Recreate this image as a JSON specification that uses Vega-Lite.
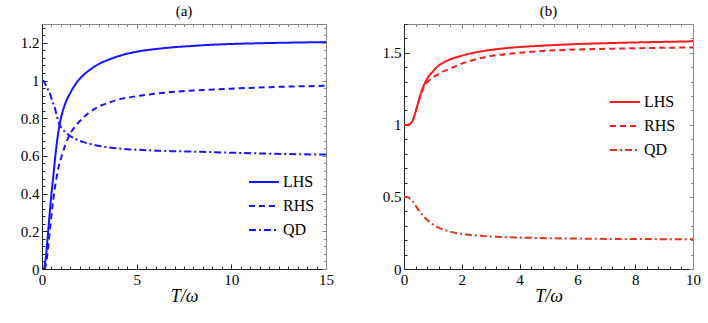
{
"$schema": "https://vega.github.io/schema/vega-lite/v6.json",
"background": "white",
"padding": {"left": 20, "top": 3, "right": 0, "bottom": 0},
"config": {
  "font": "Liberation Serif, Times New Roman, serif",
  "view": {"stroke": null},
  "axis": {"labelFont": "Liberation Serif, Times New Roman, serif", "labelFontSize": 15, "labelColor": "#000", "titleFont": "Liberation Serif, Times New Roman, serif", "titleFontSize": 18, "titleFontWeight": "normal", "titleColor": "#000", "grid": false, "labelFlush": false, "labelOverlap": false},
  "title": {"font": "Liberation Serif, Times New Roman, serif", "fontSize": 15, "fontWeight": "normal", "color": "#000", "offset": 5, "anchor": "middle"},
  "legend": {"padding": 0}
},
"datasets": {
  "a": [
    {"s":"LHS","x":0.1,"y":0},{"s":"LHS","x":0.2,"y":0.06},{"s":"LHS","x":0.3,"y":0.17},{"s":"LHS","x":0.4,"y":0.29},{"s":"LHS","x":0.5,"y":0.4},{"s":"LHS","x":0.6,"y":0.495},{"s":"LHS","x":0.7,"y":0.595},{"s":"LHS","x":0.8,"y":0.68},{"s":"LHS","x":0.9,"y":0.75},{"s":"LHS","x":1.0,"y":0.8},{"s":"LHS","x":1.2,"y":0.87},{"s":"LHS","x":1.5,"y":0.935},{"s":"LHS","x":1.8,"y":0.985},{"s":"LHS","x":2.2,"y":1.03},{"s":"LHS","x":2.6,"y":1.062},{"s":"LHS","x":3,"y":1.088},{"s":"LHS","x":3.5,"y":1.11},{"s":"LHS","x":4,"y":1.128},{"s":"LHS","x":5,"y":1.153},{"s":"LHS","x":6,"y":1.167},{"s":"LHS","x":7,"y":1.177},{"s":"LHS","x":8,"y":1.184},{"s":"LHS","x":9,"y":1.19},{"s":"LHS","x":10,"y":1.194},{"s":"LHS","x":12,"y":1.199},{"s":"LHS","x":15,"y":1.204},
    {"s":"RHS","x":0.15,"y":0},{"s":"RHS","x":0.25,"y":0.05},{"s":"RHS","x":0.35,"y":0.14},{"s":"RHS","x":0.45,"y":0.24},{"s":"RHS","x":0.55,"y":0.33},{"s":"RHS","x":0.65,"y":0.41},{"s":"RHS","x":0.78,"y":0.49},{"s":"RHS","x":0.9,"y":0.55},{"s":"RHS","x":1.04,"y":0.6},{"s":"RHS","x":1.2,"y":0.65},{"s":"RHS","x":1.4,"y":0.7},{"s":"RHS","x":1.7,"y":0.75},{"s":"RHS","x":2,"y":0.785},{"s":"RHS","x":2.4,"y":0.823},{"s":"RHS","x":2.9,"y":0.857},{"s":"RHS","x":3.5,"y":0.882},{"s":"RHS","x":4,"y":0.898},{"s":"RHS","x":5,"y":0.917},{"s":"RHS","x":6,"y":0.93},{"s":"RHS","x":7,"y":0.94},{"s":"RHS","x":8,"y":0.947},{"s":"RHS","x":10,"y":0.957},{"s":"RHS","x":12,"y":0.965},{"s":"RHS","x":15,"y":0.972},
    {"s":"QD","x":0,"y":1.0},{"s":"QD","x":0.1,"y":0.995},{"s":"QD","x":0.2,"y":0.975},{"s":"QD","x":0.3,"y":0.955},{"s":"QD","x":0.42,"y":0.93},{"s":"QD","x":0.55,"y":0.89},{"s":"QD","x":0.69,"y":0.85},{"s":"QD","x":0.8,"y":0.805},{"s":"QD","x":0.91,"y":0.77},{"s":"QD","x":1.1,"y":0.74},{"s":"QD","x":1.3,"y":0.72},{"s":"QD","x":1.5,"y":0.705},{"s":"QD","x":1.83,"y":0.687},{"s":"QD","x":2.2,"y":0.673},{"s":"QD","x":2.7,"y":0.66},{"s":"QD","x":3.3,"y":0.649},{"s":"QD","x":4,"y":0.64},{"s":"QD","x":5,"y":0.633},{"s":"QD","x":6,"y":0.628},{"s":"QD","x":7,"y":0.625},{"s":"QD","x":8.35,"y":0.622},{"s":"QD","x":10,"y":0.617},{"s":"QD","x":12,"y":0.612},{"s":"QD","x":15,"y":0.607}
  ],
  "b": [
    {"s":"LHS","x":0,"y":1.0},{"s":"LHS","x":0.1,"y":1.0},{"s":"LHS","x":0.2,"y":1.005},{"s":"LHS","x":0.3,"y":1.03},{"s":"LHS","x":0.4,"y":1.09},{"s":"LHS","x":0.5,"y":1.16},{"s":"LHS","x":0.6,"y":1.23},{"s":"LHS","x":0.7,"y":1.28},{"s":"LHS","x":0.85,"y":1.335},{"s":"LHS","x":1.0,"y":1.37},{"s":"LHS","x":1.13,"y":1.4},{"s":"LHS","x":1.3,"y":1.425},{"s":"LHS","x":1.6,"y":1.455},{"s":"LHS","x":2,"y":1.48},{"s":"LHS","x":2.4,"y":1.5},{"s":"LHS","x":3,"y":1.52},{"s":"LHS","x":3.5,"y":1.532},{"s":"LHS","x":4,"y":1.54},{"s":"LHS","x":5,"y":1.552},{"s":"LHS","x":6,"y":1.561},{"s":"LHS","x":7,"y":1.567},{"s":"LHS","x":8,"y":1.572},{"s":"LHS","x":9,"y":1.576},{"s":"LHS","x":10,"y":1.58},
    {"s":"RHS","x":0,"y":1.0},{"s":"RHS","x":0.1,"y":1.0},{"s":"RHS","x":0.2,"y":1.005},{"s":"RHS","x":0.3,"y":1.03},{"s":"RHS","x":0.4,"y":1.09},{"s":"RHS","x":0.5,"y":1.16},{"s":"RHS","x":0.6,"y":1.22},{"s":"RHS","x":0.7,"y":1.265},{"s":"RHS","x":0.85,"y":1.305},{"s":"RHS","x":1.0,"y":1.33},{"s":"RHS","x":1.13,"y":1.345},{"s":"RHS","x":1.3,"y":1.365},{"s":"RHS","x":1.6,"y":1.39},{"s":"RHS","x":2,"y":1.425},{"s":"RHS","x":2.4,"y":1.45},{"s":"RHS","x":3,"y":1.478},{"s":"RHS","x":3.5,"y":1.49},{"s":"RHS","x":4,"y":1.5},{"s":"RHS","x":5,"y":1.515},{"s":"RHS","x":6,"y":1.523},{"s":"RHS","x":7,"y":1.528},{"s":"RHS","x":8,"y":1.532},{"s":"RHS","x":9,"y":1.535},{"s":"RHS","x":10,"y":1.537},
    {"s":"QD","x":0,"y":0.5},{"s":"QD","x":0.1,"y":0.5},{"s":"QD","x":0.2,"y":0.49},{"s":"QD","x":0.3,"y":0.47},{"s":"QD","x":0.4,"y":0.44},{"s":"QD","x":0.5,"y":0.41},{"s":"QD","x":0.6,"y":0.385},{"s":"QD","x":0.75,"y":0.35},{"s":"QD","x":0.92,"y":0.32},{"s":"QD","x":1.1,"y":0.298},{"s":"QD","x":1.3,"y":0.278},{"s":"QD","x":1.5,"y":0.265},{"s":"QD","x":1.8,"y":0.25},{"s":"QD","x":2.3,"y":0.236},{"s":"QD","x":3,"y":0.226},{"s":"QD","x":3.5,"y":0.221},{"s":"QD","x":4,"y":0.218},{"s":"QD","x":5,"y":0.214},{"s":"QD","x":6,"y":0.211},{"s":"QD","x":7,"y":0.209},{"s":"QD","x":8,"y":0.208},{"s":"QD","x":9,"y":0.207},{"s":"QD","x":10,"y":0.206}
  ]
},
"bounds": "flush",
"spacing": 78,
"resolve": {"scale": {"x": "independent", "y": "independent", "color": "independent", "strokeDash": "independent"}, "legend": {"color": "independent", "strokeDash": "independent"}},
"hconcat": [
  {
    "title": {"text": "(a)"},
    "width": 284, "height": 245,
    "data": {"name": "a"},
    "resolve": {"axis": {"x": "independent", "y": "independent"}},
    "layer": [
      {
        "mark": {"type": "line", "interpolate": "monotone", "strokeWidth": 2, "clip": true},
        "encoding": {
          "x": {"field": "x", "type": "quantitative", "scale": {"domain": [0, 15], "nice": false}, "axis": {"orient": "bottom", "values": [0, 5, 10, 15], "tickSize": -5, "tickColor": "#222", "domainColor": "#222", "labelPadding": 8, "title": "T/ω", "titleFontStyle": "italic", "titlePadding": 0}},
          "y": {"field": "y", "type": "quantitative", "scale": {"domain": [0, 1.3], "nice": false}, "axis": {"orient": "left", "values": [0, 0.2, 0.4, 0.6, 0.8, 1, 1.2], "format": "~g", "tickSize": -5, "tickColor": "#222", "domainColor": "#222", "labelPadding": 8, "title": null}},
          "color": {"field": "s", "type": "nominal", "scale": {"domain": ["LHS", "RHS", "QD"], "range": ["#1414ff", "#1414ff", "#1414ff"]}, "legend": {"title": null, "orient": "none", "legendX": 206, "legendY": 142, "symbolType": "stroke", "symbolSize": 900, "symbolStrokeWidth": 2, "labelFont": "Liberation Serif, Times New Roman, serif", "labelFontSize": 16, "labelColor": "#000", "labelOffset": 3, "rowPadding": -10.5}},
          "strokeDash": {"field": "s", "type": "nominal", "scale": {"domain": ["LHS", "RHS", "QD"], "range": [[1, 0], [6, 4], [7, 3, 2, 3]]}, "legend": {"title": null, "orient": "none", "legendX": 206, "legendY": 142, "symbolType": "stroke", "symbolSize": 900, "symbolStrokeWidth": 2, "labelFont": "Liberation Serif, Times New Roman, serif", "labelFontSize": 16, "labelColor": "#000", "labelOffset": 3, "rowPadding": -10.5}}
        }
      },
      {
        "mark": {"type": "point", "opacity": 0},
        "encoding": {
          "x": {"field": "x", "type": "quantitative", "axis": {"orient": "bottom", "values": [0.5,1,1.5,2,2.5,3,3.5,4,4.5,5.5,6,6.5,7,7.5,8,8.5,9,9.5,10.5,11,11.5,12,12.5,13,13.5,14,14.5], "tickSize": -3, "tickColor": "#222", "labels": false, "domain": false, "title": null}},
          "y": {"field": "y", "type": "quantitative", "axis": {"orient": "left", "values": [0.04,0.08,0.12,0.16,0.24,0.28,0.32,0.36,0.44,0.48,0.52,0.56,0.64,0.68,0.72,0.76,0.84,0.88,0.92,0.96,1.04,1.08,1.12,1.16,1.24,1.28], "tickSize": -3, "tickColor": "#222", "labels": false, "domain": false, "title": null}}
        }
      },
      {
        "mark": {"type": "point", "opacity": 0},
        "encoding": {
          "x": {"field": "x", "type": "quantitative", "axis": {"orient": "top", "values": [0, 5, 10, 15], "tickSize": -4, "tickColor": "#888", "domainColor": "#888", "labels": false, "title": null}},
          "y": {"field": "y", "type": "quantitative", "axis": {"orient": "right", "values": [0, 0.2, 0.4, 0.6, 0.8, 1, 1.2], "tickSize": -4, "tickColor": "#888", "domainColor": "#888", "labels": false, "title": null}}
        }
      },
      {
        "mark": {"type": "point", "opacity": 0},
        "encoding": {
          "x": {"field": "x", "type": "quantitative", "axis": {"orient": "top", "values": [0.5,1,1.5,2,2.5,3,3.5,4,4.5,5.5,6,6.5,7,7.5,8,8.5,9,9.5,10.5,11,11.5,12,12.5,13,13.5,14,14.5], "tickSize": -2.5, "tickColor": "#888", "labels": false, "domain": false, "title": null}},
          "y": {"field": "y", "type": "quantitative", "axis": {"orient": "right", "values": [0.04,0.08,0.12,0.16,0.24,0.28,0.32,0.36,0.44,0.48,0.52,0.56,0.64,0.68,0.72,0.76,0.84,0.88,0.92,0.96,1.04,1.08,1.12,1.16,1.24,1.28], "tickSize": -2.5, "tickColor": "#888", "labels": false, "domain": false, "title": null}}
        }
      }
    ]
  },
  {
    "title": {"text": "(b)"},
    "width": 289, "height": 245,
    "data": {"name": "b"},
    "resolve": {"axis": {"x": "independent", "y": "independent"}},
    "layer": [
      {
        "mark": {"type": "line", "interpolate": "monotone", "strokeWidth": 2, "clip": true},
        "encoding": {
          "x": {"field": "x", "type": "quantitative", "scale": {"domain": [0, 10], "nice": false}, "axis": {"orient": "bottom", "values": [0, 2, 4, 6, 8, 10], "tickSize": -5, "tickColor": "#222", "domainColor": "#222", "labelPadding": 8, "title": "T/ω", "titleFontStyle": "italic", "titlePadding": 0}},
          "y": {"field": "y", "type": "quantitative", "scale": {"domain": [0, 1.7], "nice": false}, "axis": {"orient": "left", "values": [0, 0.5, 1, 1.5], "format": "~g", "tickSize": -5, "tickColor": "#222", "domainColor": "#222", "labelPadding": 8, "title": null}},
          "color": {"field": "s", "type": "nominal", "scale": {"domain": ["LHS", "RHS", "QD"], "range": ["#ff1a1a", "#ff1a1a", "#e2361a"]}, "legend": {"title": null, "orient": "none", "legendX": 205, "legendY": 62, "symbolType": "stroke", "symbolSize": 900, "symbolStrokeWidth": 2, "labelFont": "Liberation Serif, Times New Roman, serif", "labelFontSize": 16, "labelColor": "#000", "labelOffset": 3, "rowPadding": -10.5}},
          "strokeDash": {"field": "s", "type": "nominal", "scale": {"domain": ["LHS", "RHS", "QD"], "range": [[1, 0], [6, 4], [7, 3, 2, 3]]}, "legend": {"title": null, "orient": "none", "legendX": 205, "legendY": 62, "symbolType": "stroke", "symbolSize": 900, "symbolStrokeWidth": 2, "labelFont": "Liberation Serif, Times New Roman, serif", "labelFontSize": 16, "labelColor": "#000", "labelOffset": 3, "rowPadding": -10.5}}
        }
      },
      {
        "mark": {"type": "point", "opacity": 0},
        "encoding": {
          "x": {"field": "x", "type": "quantitative", "axis": {"orient": "bottom", "values": [0.4,0.8,1.2,1.6,2.4,2.8,3.2,3.6,4.4,4.8,5.2,5.6,6.4,6.8,7.2,7.6,8.4,8.8,9.2,9.6], "tickSize": -3, "tickColor": "#222", "labels": false, "domain": false, "title": null}},
          "y": {"field": "y", "type": "quantitative", "axis": {"orient": "left", "values": [0.1,0.2,0.3,0.4,0.6,0.7,0.8,0.9,1.1,1.2,1.3,1.4,1.6,1.7], "tickSize": -3, "tickColor": "#222", "labels": false, "domain": false, "title": null}}
        }
      },
      {
        "mark": {"type": "point", "opacity": 0},
        "encoding": {
          "x": {"field": "x", "type": "quantitative", "axis": {"orient": "top", "values": [0, 2, 4, 6, 8, 10], "tickSize": -4, "tickColor": "#888", "domainColor": "#888", "labels": false, "title": null}},
          "y": {"field": "y", "type": "quantitative", "axis": {"orient": "right", "values": [0, 0.5, 1, 1.5], "tickSize": -4, "tickColor": "#888", "domainColor": "#888", "labels": false, "title": null}}
        }
      },
      {
        "mark": {"type": "point", "opacity": 0},
        "encoding": {
          "x": {"field": "x", "type": "quantitative", "axis": {"orient": "top", "values": [0.4,0.8,1.2,1.6,2.4,2.8,3.2,3.6,4.4,4.8,5.2,5.6,6.4,6.8,7.2,7.6,8.4,8.8,9.2,9.6], "tickSize": -2.5, "tickColor": "#888", "labels": false, "domain": false, "title": null}},
          "y": {"field": "y", "type": "quantitative", "axis": {"orient": "right", "values": [0.1,0.2,0.3,0.4,0.6,0.7,0.8,0.9,1.1,1.2,1.3,1.4,1.6,1.7], "tickSize": -2.5, "tickColor": "#888", "labels": false, "domain": false, "title": null}}
        }
      }
    ]
  }
]
}
